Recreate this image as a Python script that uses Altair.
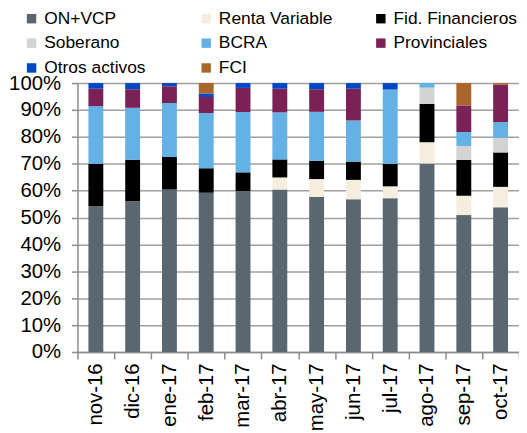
import altair as alt
import pandas as pd

months = ["nov-16", "dic-16", "ene-17", "feb-17", "mar-17", "abr-17",
          "may-17", "jun-17", "jul-17", "ago-17", "sep-17", "oct-17"]

series = ["ON+VCP", "Renta Variable", "Fid. Financieros", "Soberano",
          "BCRA", "Provinciales", "Otros activos", "FCI"]
colors = ["#5b6770", "#f5eedf", "#000000", "#d3d3d3",
          "#63b1e5", "#7b2155", "#0047c4", "#a9662b"]

on_vcp = [54.2, 56.0, 60.4, 59.2, 59.8, 60.4, 57.7, 56.8, 57.2, 70.1, 50.9, 53.8]
renta = [0, 0, 0, 0, 0, 4.5, 6.6, 7.2, 4.4, 7.9, 7.2, 7.6]
fid = [15.8, 15.5, 12.1, 9.1, 7.0, 6.7, 6.8, 6.8, 8.3, 14.3, 13.3, 12.8]
soberano = [0, 0, 0, 0, 0, 0, 0, 0, 0, 6.0, 5.2, 5.5]
bcra = [21.4, 19.3, 20.1, 20.6, 22.4, 17.5, 18.2, 15.3, 27.7, 1.7, 5.2, 5.8]
provinciales = [6.5, 6.9, 6.2, 5.9, 9.0, 8.8, 8.4, 11.8, 0, 0, 9.9, 13.9]
otros = [2.1, 2.3, 1.2, 1.3, 1.8, 2.1, 2.3, 2.1, 2.4, 0, 0, 0]
fci = [0, 0, 0, 3.9, 0, 0, 0, 0, 0, 0, 8.3, 0.6]

values = [on_vcp, renta, fid, soberano, bcra, provinciales, otros, fci]

rows = []
for si, (name, vals) in enumerate(zip(series, values)):
    for m, v in zip(months, vals):
        rows.append({"month": m, "serie": name, "value": v, "idx": si})
df = pd.DataFrame(rows)

FONT = "Liberation Sans"

chart = alt.Chart(df).mark_bar(size=15).encode(
    x=alt.X("month:N", sort=months,
            scale=alt.Scale(paddingInner=0, paddingOuter=0),
            axis=alt.Axis(title=None, labelAngle=-90, tickBand="extent",
                          tickSize=7, tickColor="#8c8c8c", domainColor="#8c8c8c",
                          domainWidth=1.5, tickWidth=1.5,
                          labelFont=FONT, labelFontSize=20.5, labelColor="#000000",
                          labelPadding=4, grid=False)),
    y=alt.Y("value:Q", stack="zero", scale=alt.Scale(domain=[0, 100]),
            axis=alt.Axis(title=None, values=list(range(0, 101, 10)),
                          labelExpr="datum.value + '%'",
                          labelFont=FONT, labelFontSize=20.5, labelColor="#000000",
                          tickSize=6, tickColor="#8c8c8c", tickWidth=1.5,
                          domainColor="#8c8c8c", domainWidth=1.5,
                          labelPadding=11, gridColor="#a0a0a0", gridWidth=1.5)),
    color=alt.Color("serie:N", sort=series,
                    scale=alt.Scale(domain=series, range=colors),
                    legend=alt.Legend(title=None, orient="none", legendX=-55, legendY=-74,
                                      direction="horizontal",
                                      columns=3, symbolType="square", symbolSize=90,
                                      symbolStrokeWidth=0, labelFont=FONT,
                                      labelFontSize=17.5, labelColor="#000000",
                                      gridAlign="all", columnPadding=30, rowPadding=6,
                                      padding=0, labelOffset=4)),
    order=alt.Order("idx:Q"),
).properties(
    width=445, height=271,
    autosize=alt.AutoSizeParams(type="none"),
    padding={"left": 70, "top": 74, "right": 0, "bottom": 80},
).configure_view(stroke=None)

chart.save("out.html", embed_options={"renderer": "svg", "actions": False})
